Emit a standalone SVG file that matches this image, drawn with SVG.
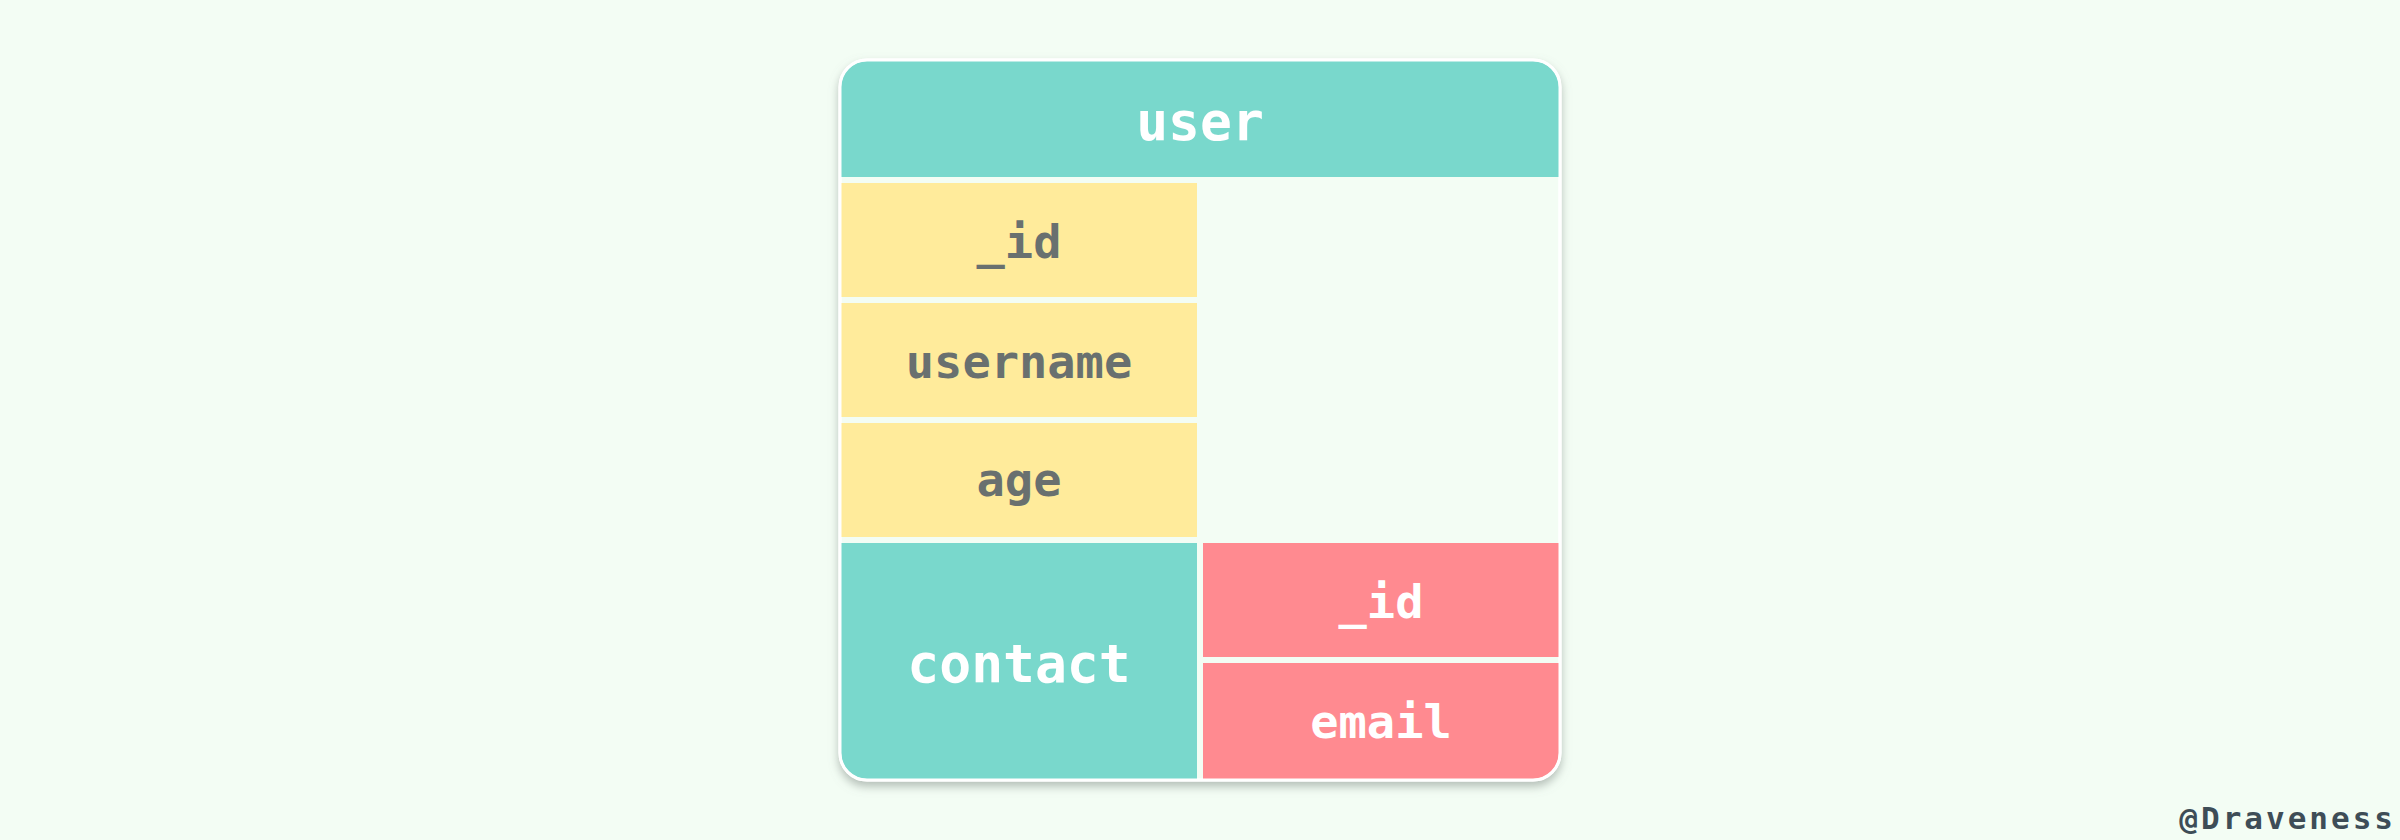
<svg xmlns="http://www.w3.org/2000/svg" width="2400" height="840" viewBox="0 0 2400 840">
  <defs>
    <filter id="shadow" x="-10%" y="-10%" width="120%" height="125%">
      <feDropShadow dx="0" dy="5" stdDeviation="5" flood-color="#7f8a85" flood-opacity="0.55"/>
    </filter>
    <clipPath id="cardClip">
      <rect x="841" y="61" width="718" height="718" rx="26" ry="26"/>
    </clipPath>
  </defs>
  <style>
    .lbl { font-family: "DejaVu Sans Mono", "Liberation Mono", monospace; font-weight: bold; text-anchor: middle; }
    .big { font-size: 53px; }
    .small { font-size: 47px; }
    .dark { fill: #69706f; }
    .light { fill: #ffffff; }
    .teal { fill: #79d8cc; }
    .yellow { fill: #ffeb9b; }
    .pink { fill: #ff8a90; }
  </style>
  <rect x="0" y="0" width="2400" height="840" fill="#f3fdf4"/>
  <g id="card">
    <rect x="840" y="60" width="720" height="720" rx="27" ry="27" fill="#f3fdf4" stroke="#ffffff" stroke-width="3" filter="url(#shadow)"/>
  </g>
  <g clip-path="url(#cardClip)">
    <g id="node-user">
      <rect class="teal" x="841" y="61" width="718" height="116"/>
      <text class="lbl big light" x="1200" y="140">user</text>
    </g>
    <g id="node-id">
      <rect class="yellow" x="841" y="183" width="356" height="114"/>
      <text class="lbl small dark" x="1019" y="258">_id</text>
    </g>
    <g id="node-username">
      <rect class="yellow" x="841" y="303" width="356" height="114"/>
      <text class="lbl small dark" x="1019" y="378">username</text>
    </g>
    <g id="node-age">
      <rect class="yellow" x="841" y="423" width="356" height="114"/>
      <text class="lbl small dark" x="1019" y="496">age</text>
    </g>
    <g id="node-contact">
      <rect class="teal" x="841" y="543" width="356" height="236"/>
      <text class="lbl big light" x="1019" y="682">contact</text>
    </g>
    <g id="node-contact-id">
      <rect class="pink" x="1203" y="543" width="356" height="114"/>
      <text class="lbl small light" x="1381" y="618">_id</text>
    </g>
    <g id="node-email">
      <rect class="pink" x="1203" y="663" width="356" height="116"/>
      <text class="lbl small light" x="1381" y="738">email</text>
    </g>
  </g>
  <rect x="840" y="60" width="720" height="720" rx="27" ry="27" fill="none" stroke="#ffffff" stroke-width="3"/>
  <g id="connectors"></g>
  <g id="watermark">
    <text x="2396" y="829" font-family="DejaVu Sans Mono, Liberation Mono, monospace" font-weight="bold" font-size="31" fill="#3e4d57" text-anchor="end" letter-spacing="3">@Draveness</text>
  </g>
</svg>
